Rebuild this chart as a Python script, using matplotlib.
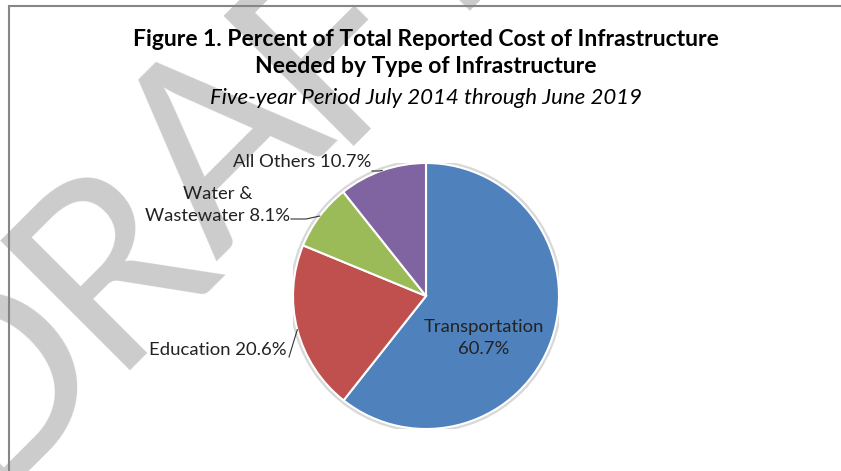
import numpy as np
import matplotlib
matplotlib.use("Agg")
import matplotlib.pyplot as plt
from matplotlib.patches import Rectangle, Circle

# data
categories = ["Transportation", "Education", "Water &\nWastewater", "All Others"]
shares = [60.7, 20.6, 8.1, 10.7]
colors = ["#4F81BD", "#C0504D", "#9BBB59", "#8064A2"]

title = "Figure 1. Percent of Total Reported Cost of Infrastructure\nNeeded by Type of Infrastructure"
subtitle = "Five-year Period July 2014 through June 2019"
watermark = "DRAFT"
wm_adv = [0.615, 0.543, 0.579, 0.459, 0.487]  # letter advances (em) of the light watermark face

W, H = 841, 471
fig = plt.figure(figsize=(W / 100, H / 100), dpi=100)
plt.rcParams["font.family"] = ["Lato", "DejaVu Sans"]

# pie placement in pixels
cx, cy, r = 426, 296, 133


def d(px, py):
    # pixel -> pie data coords
    return (px - cx) / r, (cy - py) / r


# watermark, one letter at a time along a 45 degree baseline
wm_rot, em = 45, 286
t = np.deg2rad(wm_rot)
adv = np.array(wm_adv) * em
centers = np.cumsum(adv) - adv / 2
centers -= centers[2]          # the middle "A" is the reference point
bx, by = 277, H - 200          # baseline point under the "A"
for ch, s in zip(watermark, centers):
    fig.text((bx + s * np.cos(t)) / W, (by + s * np.sin(t)) / H, ch, fontsize=184,
             color="#CCCCCC", rotation=wm_rot, ha="center", va="baseline",
             rotation_mode="anchor", zorder=0)

# frame
fig.patches.append(Rectangle((9 / W, -0.1), 1.2, 1.1 - 6 / H, transform=fig.transFigure,
                             fill=False, edgecolor="#868686", linewidth=1.5, zorder=1))

fig.text(cx / W, 1 - 53 / H, title, ha="center", va="center", fontsize=16.5,
         fontweight="bold", linespacing=1.4, color="black")
fig.text(cx / W, 1 - 98 / H, subtitle, ha="center", va="center", fontsize=16,
         style="italic", color="black")

ax = fig.add_axes([(cx - r) / W, (H - cy - r) / H, 2 * r / W, 2 * r / H])
ax.set_zorder(2)
ax.patch.set_alpha(0)
ax.add_patch(Circle((0, 0), 1.012, facecolor="none", edgecolor="#D8D8D8", lw=2.5, zorder=0))
wedges, _ = ax.pie(shares, colors=colors, startangle=90, counterclock=False, radius=1,
                   wedgeprops=dict(edgecolor="white", linewidth=1.5))
ax.set_xlim(-1, 1)
ax.set_ylim(-1, 1)
ax.set_aspect("auto")
ax.axis("off")


def edge(w):
    a = np.deg2rad((w.theta1 + w.theta2) / 2)
    return np.cos(a), np.sin(a)


lab = [f"{c} {v}%" for c, v in zip(categories, shares)]
fs = 13.3
tc = "#222222"

# Transportation inside
ax.text(*d(484, 338), f"{categories[0]}\n{shares[0]}%", ha="center", va="center",
        fontsize=fs, color=tc, linespacing=1.45)

# Education
ex, ey = edge(wedges[1])
ax.text(*d(287, 350), lab[1], ha="right", va="center", fontsize=fs, color=tc)
sx, sy = d(289, 357)
ax.plot([sx, ex], [sy, ey], color="#333333", lw=0.8, clip_on=False)

# Water & Wastewater
ex, ey = edge(wedges[2])
ax.text(*d(290, 205), lab[2], ha="right", va="center", fontsize=fs, color=tc,
        multialignment="center", linespacing=1.5)
sx, sy = d(291, 219)
mx, _ = d(306, 219)
ax.plot([sx, mx, ex], [sy, sy, ey], color="#333333", lw=0.8, clip_on=False)

# All Others
ex, ey = edge(wedges[3])
ax.text(*d(371, 162), lab[3], ha="right", va="center", fontsize=fs, color=tc)
sx, sy = d(372, 171)
mx, _ = d(379, 171)
ax.plot([sx, mx, ex], [sy, sy, ey], color="#333333", lw=0.8, clip_on=False)

fig.savefig("out.png", dpi=100)
